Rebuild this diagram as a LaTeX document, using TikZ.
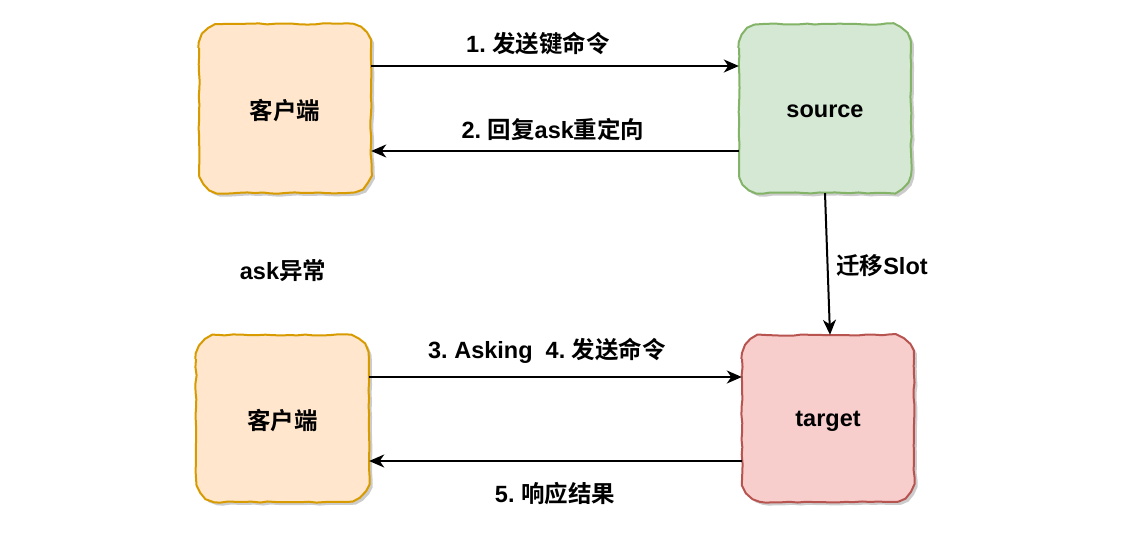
\documentclass[tikz,border=0pt]{standalone}
\usepackage{fontspec}
\setmainfont{Liberation Sans}
\newfontfamily\cjk{Noto Sans CJK SC}[BoldFont={Noto Sans CJK SC Bold}]
\usetikzlibrary{arrows.meta,shadows,decorations.pathmorphing}
\newcommand{\zh}[1]{{\cjk\bfseries #1}}
\frenchspacing
\begin{document}
\begin{tikzpicture}[x=1pt,y=-1pt,
  lbl/.style={font=\fontsize{23.5}{26}\selectfont\bfseries, inner sep=0pt, text=black},
  boxstyle/.style={line width=2pt,
     drop shadow={shadow xshift=3pt, shadow yshift=-3pt, fill=black, opacity=0.2}},
  sketch/.style={decoration={random steps, segment length=8pt, amplitude=0.6pt}},
  orangebox/.style={boxstyle, draw=dOrange, fill=lOrange},
  greenbox/.style={boxstyle, draw=dGreen, fill=lGreen},
  redbox/.style={boxstyle, draw=dRed, fill=lRed},
  conn/.style={line width=2pt, -{Stealth[length=15pt,width=13pt,inset=4.5pt]}}
]
\definecolor{dOrange}{RGB}{215,155,0}
\definecolor{lOrange}{RGB}{255,230,204}
\definecolor{dGreen}{RGB}{130,179,102}
\definecolor{lGreen}{RGB}{213,232,212}
\definecolor{dRed}{RGB}{184,84,80}
\definecolor{lRed}{RGB}{248,206,204}
\pgfmathsetseed{7}
\useasboundingbox (0,0) rectangle (1121,535);
% boxes
\path[orangebox] decorate[sketch] {[rounded corners=24pt] (199,24) rectangle (371,193)};
\path[greenbox] decorate[sketch] {[rounded corners=24pt] (739,24) rectangle (911,193)};
\path[orangebox] decorate[sketch] {[rounded corners=24pt] (196,335) rectangle (369,502)};
\path[redbox] decorate[sketch] {[rounded corners=24pt] (742,335) rectangle (914,502)};
% node anchors
\node[inner sep=0pt, minimum width=172pt, minimum height=169pt] (c1) at (285,108.5) {};
\node[inner sep=0pt, minimum width=172pt, minimum height=169pt] (src) at (825,108.5) {};
\node[inner sep=0pt, minimum width=173pt, minimum height=167pt] (c2) at (282.5,418.5) {};
\node[inner sep=0pt, minimum width=172pt, minimum height=167pt] (tgt) at (828,418.5) {};
\node[lbl] (c1t) at ([yshift=-2pt]c1) {\zh{客户端}};
\node[lbl] (srct) at ([yshift=-3pt]src) {source};
\node[lbl] (c2t) at ([yshift=-2pt]c2) {\zh{客户端}};
\node[lbl] (tgtt) at ([yshift=-3pt]tgt) {target};
% connectors
\coordinate (a1s) at (c1.east |- 0,66);
\coordinate (a1e) at (src.west |- 0,66);
\draw[conn] (a1s) -- (a1e);
\coordinate (a2s) at (src.west |- 0,151);
\coordinate (a2e) at (c1.east |- 0,151);
\draw[conn] (a2s) -- (a2e);
\draw[conn] (src.south) -- ([xshift=2pt]tgt.north);
\coordinate (a3s) at (c2.east |- 0,377);
\coordinate (a3e) at (tgt.west |- 0,377);
\draw[conn] (a3s) -- (a3e);
\coordinate (a4s) at (tgt.west |- 0,461);
\coordinate (a4e) at (c2.east |- 0,461);
\draw[conn] (a4s) -- (a4e);
% labels
\node[lbl] (l1) at (538,43) {1. \zh{发送键命令}};
\node[lbl] (l2) at (553,129) {2. \zh{回复}ask\zh{重定向}};
\node[lbl] (l3) at (882,266) {\zh{迁移}Slot};
\node[lbl] (l4) at (283,271) {ask\zh{异常}};
\node[lbl] (l5) at (547,351) {3. Asking\ \ 4. \zh{发送命令}};
\node[lbl] (l6) at (555,494) {5. \zh{响应结果}};
\end{tikzpicture}
\end{document}
